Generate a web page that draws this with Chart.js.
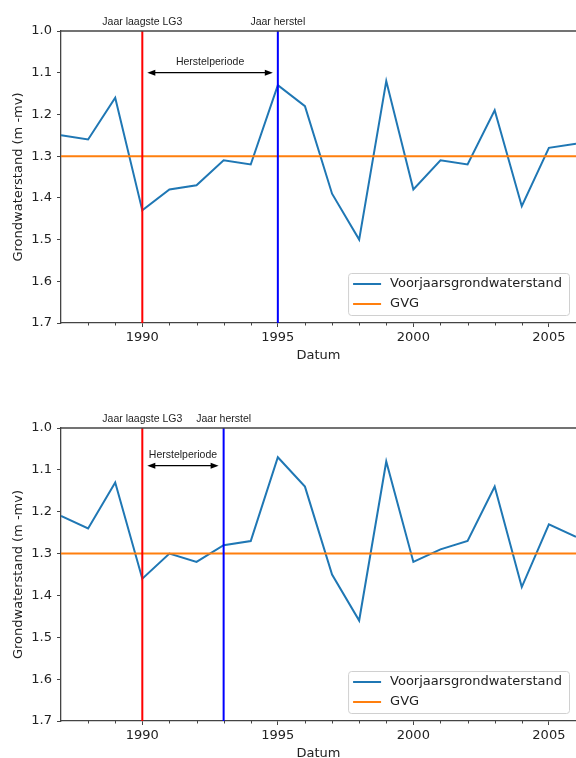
<!DOCTYPE html>
<html>
<head>
<meta charset="utf-8">
<script src="https://cdn.jsdelivr.net/npm/chart.js@4.4.1/dist/chart.umd.min.js"></script>
<style>
  html, body { margin: 0; padding: 0; background: #fff; }
  #wrap { position: relative; width: 576px; height: 758px; overflow: hidden; }
  canvas { position: absolute; left: 0; }
</style>
</head>
<body>
<div id="wrap">
  <canvas id="chartTop" width="576" height="379" style="top:0px"></canvas>
  <canvas id="chartBottom" width="576" height="379" style="top:379px"></canvas>
</div>
<script>
// data
const years = [1987, 1988, 1989, 1990, 1991, 1992, 1993, 1994, 1995, 1996,
               1997, 1998, 1999, 2000, 2001, 2002, 2003, 2004, 2005, 2006];
const standTop = [1.25, 1.26, 1.16, 1.43, 1.38, 1.37, 1.31, 1.32, 1.13, 1.18,
                  1.39, 1.50, 1.12, 1.38, 1.31, 1.32, 1.19, 1.42, 1.28, 1.27];
const standBottom = [1.21, 1.24, 1.13, 1.36, 1.30, 1.32, 1.28, 1.27, 1.07, 1.14,
                     1.35, 1.46, 1.08, 1.32, 1.29, 1.27, 1.14, 1.38, 1.23, 1.26];
const gvg = 1.3;
const jaarLaagste = 1990;
const jaarHerstelTop = 1995;
const jaarHerstelBottom = 1993;
const arrowYTop = 1.1;
const arrowYBottom = 1.09;

const xRange = [1987, 2006];
const yRange = [1.0, 1.7];
const xTicks = [1990, 1995, 2000, 2005];
const xMinorTicks = [1988, 1989, 1991, 1992, 1993, 1994, 1996, 1997, 1998, 1999,
                     2001, 2002, 2003, 2004, 2006];
const yTicks = [1.0, 1.1, 1.2, 1.3, 1.4, 1.5, 1.6, 1.7];

const seriesLabel = "Voorjaarsgrondwaterstand";
const gvgLabel = "GVG";
const yTitle = "Grondwaterstand (m -mv)";
const xTitle = "Datum";

const axisColor = "#444";
const textColor = "#222";

Chart.defaults.font.family = "'DejaVu Sans', sans-serif";
Chart.defaults.font.size = 13;
Chart.defaults.color = textColor;

// everything matplotlib draws that Chart.js doesn't: top spine, minor ticks,
// annotations, arrow, legend box and axis titles
const extraPlugin = {
  id: "extra",
  afterDraw(chart, args, opts) {
    const ctx = chart.ctx;
    const a = chart.chartArea;
    const xs = chart.scales.x;
    const ys = chart.scales.y;
    ctx.save();

    // top spine
    ctx.strokeStyle = axisColor;
    ctx.lineWidth = 1.3;
    ctx.beginPath();
    ctx.moveTo(a.left, a.top);
    ctx.lineTo(a.right, a.top);
    ctx.stroke();

    // minor x ticks
    ctx.lineWidth = 1;
    xMinorTicks.forEach(v => {
      const px = Math.round(xs.getPixelForValue(v)) + 0.5;
      ctx.beginPath();
      ctx.moveTo(px, a.bottom);
      ctx.lineTo(px, a.bottom + 2.5);
      ctx.stroke();
    });

    // labels above the plot
    ctx.fillStyle = textColor;
    ctx.font = "10.5px 'Liberation Sans', Arial, sans-serif";
    ctx.textAlign = "center";
    ctx.textBaseline = "middle";
    const xl = xs.getPixelForValue(jaarLaagste);
    const xh = xs.getPixelForValue(opts.herstel);
    ctx.fillText("Jaar laagste LG3", xl, a.top - 8.5);
    ctx.fillText("Jaar herstel", xh, a.top - 8.5);

    // double arrow "Herstelperiode"
    const ay = ys.getPixelForValue(opts.arrowY);
    const x0 = xl + 5, x1 = xh - 5;
    ctx.strokeStyle = "#000";
    ctx.fillStyle = "#000";
    ctx.lineWidth = 1.2;
    ctx.beginPath();
    ctx.moveTo(x0 + 6, ay);
    ctx.lineTo(x1 - 6, ay);
    ctx.stroke();
    ctx.beginPath();
    ctx.moveTo(x0, ay);
    ctx.lineTo(x0 + 8, ay - 3);
    ctx.lineTo(x0 + 8, ay + 3);
    ctx.closePath();
    ctx.fill();
    ctx.beginPath();
    ctx.moveTo(x1, ay);
    ctx.lineTo(x1 - 8, ay - 3);
    ctx.lineTo(x1 - 8, ay + 3);
    ctx.closePath();
    ctx.fill();
    ctx.fillStyle = textColor;
    ctx.fillText("Herstelperiode", (x0 + x1) / 2, ay - 10.5);

    // axis titles
    ctx.font = "13px 'DejaVu Sans', sans-serif";
    ctx.fillText(xTitle, (a.left + a.right) / 2, a.bottom + 33);
    ctx.save();
    ctx.translate(18.5, (a.top + a.bottom) / 2);
    ctx.rotate(-Math.PI / 2);
    ctx.fillText(yTitle, 0, 0);
    ctx.restore();

    // legend (first two datasets)
    const items = chart.data.datasets.slice(0, 2);
    const tw = Math.max(...items.map(d => ctx.measureText(d.label).width));
    const bw = 42 + tw + 7;
    const bh = 42;
    const bx = a.right - 7 - bw;
    const by = a.bottom - 8 - bh;
    ctx.fillStyle = "rgba(255,255,255,0.85)";
    ctx.strokeStyle = "#d0d0d0";
    ctx.lineWidth = 1;
    ctx.beginPath();
    ctx.roundRect(bx + 0.5, by + 0.5, bw, bh, 3);
    ctx.fill();
    ctx.stroke();
    ctx.textAlign = "left";
    items.forEach((d, i) => {
      const ry = by + 11 + i * 20;
      ctx.strokeStyle = d.borderColor;
      ctx.lineWidth = 2;
      ctx.beginPath();
      ctx.moveTo(bx + 5, ry);
      ctx.lineTo(bx + 33, ry);
      ctx.stroke();
      ctx.fillStyle = textColor;
      ctx.fillText(d.label, bx + 42, ry);
    });

    ctx.restore();
  }
};

function makeChart(canvasId, stand, herstel, arrowY, padTop, xAxisHeight) {
  const ctx = document.getElementById(canvasId).getContext("2d");
  return new Chart(ctx, {
    type: "line",
    data: {
      datasets: [
        {
          label: seriesLabel,
          data: years.map((y, i) => ({ x: y, y: stand[i] })),
          borderColor: "#1f77b4",
          borderWidth: 2,
          order: 4,
        },
        {
          label: gvgLabel,
          data: [{ x: xRange[0], y: gvg }, { x: xRange[1], y: gvg }],
          borderColor: "#ff7f0e",
          borderWidth: 2,
          order: 3,
        },
        {
          label: "laagste",
          data: [{ x: jaarLaagste, y: yRange[0] }, { x: jaarLaagste, y: yRange[1] }],
          borderColor: "#ff0000",
          borderWidth: 2,
          order: 2,
        },
        {
          label: "herstel",
          data: [{ x: herstel, y: yRange[0] }, { x: herstel, y: yRange[1] }],
          borderColor: "#0000ff",
          borderWidth: 2,
          order: 1,
        },
      ],
    },
    options: {
      responsive: false,
      animation: false,
      events: [],
      layout: { padding: { top: padTop, left: 0, right: 0, bottom: 0 } },
      elements: {
        point: { radius: 0 },
        line: { tension: 0, fill: false },
      },
      scales: {
        x: {
          type: "linear",
          min: xRange[0],
          max: xRange[1],
          afterBuildTicks: scale => {
            scale.ticks = xTicks.map(v => ({ value: v }));
          },
          afterFit: scale => {
            scale.height = xAxisHeight;
          },
          ticks: {
            autoSkip: false,
            maxRotation: 0,
            padding: 3,
            callback: v => String(v),
          },
          grid: {
            drawOnChartArea: false,
            tickLength: 4,
            tickColor: axisColor,
          },
          border: { color: axisColor, width: 1.3 },
        },
        y: {
          type: "linear",
          reverse: true,
          min: yRange[0],
          max: yRange[1],
          afterBuildTicks: scale => {
            scale.ticks = yTicks.map(v => ({ value: v }));
          },
          afterFit: scale => {
            scale.width = 61;
          },
          ticks: {
            padding: 5,
            callback: v => Number(v).toFixed(1),
          },
          grid: {
            drawOnChartArea: false,
            tickLength: 4,
            tickColor: axisColor,
          },
          border: { color: axisColor, width: 1.3 },
        },
      },
      plugins: {
        legend: { display: false },
        tooltip: { enabled: false },
        extra: { herstel: herstel, arrowY: arrowY },
      },
    },
    plugins: [extraPlugin],
  });
}

makeChart("chartTop", standTop, jaarHerstelTop, arrowYTop, 31, 56);
makeChart("chartBottom", standBottom, jaarHerstelBottom, arrowYBottom, 49, 37);
</script>
</body>
</html>
